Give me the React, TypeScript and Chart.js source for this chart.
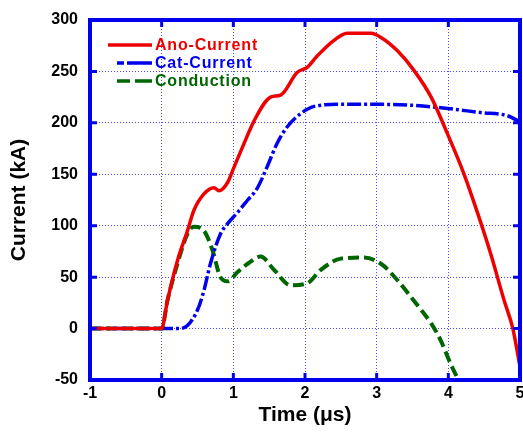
import React, { useEffect, useRef } from "react";
import { Chart, registerables } from "chart.js";

Chart.register(...registerables);

// Ano-Current (red)
const anoX = [-1, -0.5, 0, 0.08, 0.22, 0.36, 0.45, 0.59, 0.73, 0.8, 0.92, 1.01, 1.15, 1.29, 1.52, 1.66, 1.89, 2.03, 2.17, 2.4, 2.59, 2.92, 3.06, 3.29, 3.52, 3.76, 3.99, 4.22, 4.41, 4.59, 4.78, 4.9, 5.0];
const anoY = [0, 0, 0, 27, 66, 95, 115, 131, 137, 134, 142, 157, 180, 202, 225, 227, 249, 254, 265, 280, 287, 287, 283, 270, 251, 225, 189, 150, 112, 73, 27, 0, -37];

// Cat-Current (blue)
const catX = [-1, -0.5, 0, 0.25, 0.36, 0.5, 0.59, 0.68, 0.82, 0.92, 1.06, 1.2, 1.33, 1.47, 1.61, 1.75, 1.94, 2.13, 2.5, 3.06, 3.52, 3.99, 4.45, 4.82, 5.0];
const catY = [0, 0, 0, 0, 3, 18, 37, 63, 92, 102, 113, 125, 136, 157, 180, 196, 209, 216, 218, 218, 217, 214, 210, 207, 201];

// Conduction (green)
const conX = [-1, -0.5, 0, 0.08, 0.22, 0.36, 0.45, 0.59, 0.71, 0.82, 0.92, 1.06, 1.2, 1.38, 1.57, 1.8, 2.03, 2.22, 2.5, 2.82, 3.06, 3.29, 3.52, 3.76, 3.89, 4.03, 4.13, 4.2];
const conY = [0, 0, 0, 27, 63, 92, 99, 95, 76, 50, 46, 55, 63, 70, 57, 42, 44, 57, 68, 69, 63, 47, 27, 5, -11, -34, -49, -62];

const seriesNames = ["Ano-Current", "Cat-Current", "Conduction"];
const seriesColors = ["#ee0000", "#0000ee", "#006600"];
const xTicks = [-1, 0, 1, 2, 3, 4, 5];
const yTicks = [-50, 0, 50, 100, 150, 200, 250, 300];

const pts = (xs: number[], ys: number[]) => xs.map((x, i) => ({ x, y: ys[i] }));

const BLUE = "#0000ee";

const framePlugin = {
  id: "frame",
  afterDatasetsDraw(chart: any) {
    const { ctx, chartArea: a, scales } = chart;
    const xs = scales.x;
    const ys = scales.y;
    ctx.save();
    ctx.strokeStyle = BLUE;
    ctx.lineWidth = 3;
    ctx.setLineDash([]);
    const L = 7;
    xTicks.forEach((t) => {
      const px = xs.getPixelForValue(t);
      ctx.beginPath();
      ctx.moveTo(px, a.top);
      ctx.lineTo(px, a.top + L);
      ctx.moveTo(px, a.bottom);
      ctx.lineTo(px, a.bottom - L);
      ctx.stroke();
    });
    yTicks.forEach((t) => {
      const py = ys.getPixelForValue(t);
      ctx.beginPath();
      ctx.moveTo(a.left, py);
      ctx.lineTo(a.left + L, py);
      ctx.moveTo(a.right, py);
      ctx.lineTo(a.right - L, py);
      ctx.stroke();
    });
    ctx.lineWidth = 4;
    ctx.strokeRect(a.left, a.top, a.right - a.left, a.bottom - a.top);

    // legend
    const lineEnd = 152;
    const rows = [45, 63, 81];
    const dashes = [[], [7, 3, 23, 0], [13, 5, 15, 0]];
    const starts = [108, 117, 117];
    ctx.font = "bold 16px 'Liberation Sans', Arial, sans-serif";
    ctx.textBaseline = "middle";
    (ctx as any).letterSpacing = "0.8px";
    seriesNames.forEach((name, i) => {
      ctx.strokeStyle = seriesColors[i];
      ctx.lineWidth = 3.5;
      ctx.setLineDash(dashes[i]);
      ctx.beginPath();
      ctx.moveTo(starts[i], rows[i]);
      ctx.lineTo(lineEnd, rows[i]);
      ctx.stroke();
      ctx.setLineDash([]);
      ctx.fillStyle = seriesColors[i];
      ctx.fillText(name, 155, rows[i] + 1);
    });
    ctx.restore();
  },
};

export default function App() {
  const ref = useRef<HTMLCanvasElement>(null);
  useEffect(() => {
    if (!ref.current) return;
    const chart = new Chart(ref.current, {
      type: "line",
      data: {
        datasets: [
          {
            label: seriesNames[0],
            data: pts(anoX, anoY),
            borderColor: seriesColors[0],
            borderWidth: 3.5,
            pointRadius: 0,
            cubicInterpolationMode: "monotone",
          },
          {
            label: seriesNames[1],
            data: pts(catX, catY),
            borderColor: seriesColors[1],
            borderWidth: 3.5,
            borderDash: [14, 3, 3, 3],
            pointRadius: 0,
            cubicInterpolationMode: "monotone",
          },
          {
            label: seriesNames[2],
            data: pts(conX, conY),
            borderColor: seriesColors[2],
            borderWidth: 4,
            borderDash: [11, 5],
            pointRadius: 0,
            cubicInterpolationMode: "monotone",
          },
        ],
      },
      options: {
        responsive: false,
        animation: false,
        layout: { padding: { top: 20, right: 3, left: 0, bottom: 0 } },
        plugins: { legend: { display: false }, tooltip: { enabled: false } },
        scales: {
          x: {
            type: "linear",
            min: -1,
            max: 5,
            afterFit: (s: any) => {
              s.height = 56;
              s.paddingLeft = 0;
              s.paddingRight = 0;
            },
            afterBuildTicks: (s: any) => {
              s.ticks = xTicks.map((v) => ({ value: v }));
            },
            ticks: {
              color: "#000",
              padding: 4,
              font: { family: "'Liberation Sans', Arial, sans-serif", weight: "bold", size: 16 },
            },
            grid: {
              color: "rgba(40,40,255,0.85)",
              lineWidth: 1,
              drawTicks: false,
            },
            border: { display: false, dash: [1, 2] },
            title: {
              display: true,
              text: "Time (\u03bcs)",
              color: "#000",
              font: { family: "'Liberation Sans', Arial, sans-serif", weight: "bold", size: 21 },
              padding: { top: 0, bottom: 8 },
            },
          },
          y: {
            type: "linear",
            min: -50,
            max: 300,
            afterFit: (s: any) => {
              s.width = 90;
              s.paddingTop = 0;
              s.paddingBottom = 0;
            },
            afterBuildTicks: (s: any) => {
              s.ticks = yTicks.map((v) => ({ value: v }));
            },
            ticks: {
              color: "#000",
              padding: 12,
              font: { family: "'Liberation Sans', Arial, sans-serif", weight: "bold", size: 16 },
            },
            grid: {
              color: "rgba(40,40,255,0.85)",
              lineWidth: 1,
              drawTicks: false,
            },
            border: { display: false, dash: [1, 2] },
            title: {
              display: true,
              text: "Current (kA)",
              color: "#000",
              font: { family: "'Liberation Sans', Arial, sans-serif", weight: "bold", size: 21 },
              padding: { top: 7, bottom: 0 },
            },
          },
        },
      },
      plugins: [framePlugin],
    });
    return () => chart.destroy();
  }, []);
  return (
    <canvas
      ref={ref}
      width={523}
      height={436}
      style={{ position: "absolute", left: 0, top: 0, width: 523, height: 436, background: "#fff" }}
    />
  );
}
